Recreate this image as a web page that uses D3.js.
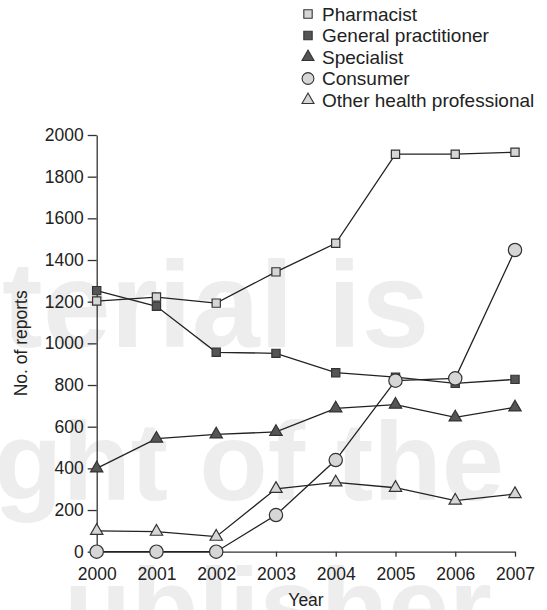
<!DOCTYPE html>
<html>
<head>
<meta charset="utf-8">
<script src="https://cdn.jsdelivr.net/npm/d3@7"></script>
<style>
  body { margin: 0; background: #fff; }
  svg { display: block; font-family: "Liberation Sans", Arial, sans-serif; }
</style>
</head>
<body>
<div id="graph"></div>
<script>
// data
var years = [2000, 2001, 2002, 2003, 2004, 2005, 2006, 2007];
var yTicks = [0, 200, 400, 600, 800, 1000, 1200, 1400, 1600, 1800, 2000];

var pharmacist = [1203, 1222, 1193, 1343, 1480, 1908, 1908, 1917];
var generalPractitioner = [1253, 1178, 957, 952, 859, 838, 808, 827];
var specialist = [400, 543, 563, 575, 688, 706, 645, 693];
var consumer = [0, 0, 0, 176, 440, 821, 832, 1448];
var otherHealth = [100, 96, 72, 302, 333, 307, 245, 277];

var seriesNames = ['Pharmacist', 'General practitioner', 'Specialist', 'Consumer', 'Other health professional'];
var seriesValues = [pharmacist, generalPractitioner, specialist, consumer, otherHealth];
var seriesShapes = ['square', 'square', 'triangle', 'circle', 'triangle'];
var seriesFills = ['#d6d6d6', '#555555', '#555555', '#d6d6d6', '#d6d6d6'];

var watermark = ['terial is', 'ght of the', 'ublisher'];

var chart_width = 547;
var chart_height = 610;

var svg = d3.select('#graph')
  .append('svg')
  .attr('width', chart_width)
  .attr('height', chart_height);

// faint watermark behind everything
var wm = svg.append('g')
  .attr('fill', '#ededed')
  .attr('font-weight', 'bold');
wm.append('text').attr('x', 2).attr('y', 347).attr('font-size', 122).text(watermark[0]);
wm.append('text').attr('x', -6).attr('y', 500).attr('font-size', 112).text(watermark[1]);
wm.append('text').attr('x', 64).attr('y', 644).attr('font-size', 110).text(watermark[2]);

var x_scale = d3.scaleLinear()
  .domain([2000, 2007])
  .range([96.7, 515]);

var y_scale = d3.scaleLinear()
  .domain([0, 2000])
  .range([551.7, 135]);

var x_axis = d3.axisBottom(x_scale)
  .tickValues(years)
  .tickFormat(d3.format('d'))
  .tickSizeInner(5)
  .tickSizeOuter(0)
  .tickPadding(11);

var y_axis = d3.axisLeft(y_scale)
  .tickValues(yTicks)
  .tickFormat(d3.format('d'))
  .tickSizeInner(9)
  .tickSizeOuter(0)
  .tickPadding(4);

var gx = svg.append('g')
  .attr('transform', 'translate(0,' + y_scale(0) + ')')
  .call(x_axis);

var gy = svg.append('g')
  .attr('transform', 'translate(' + x_scale(2000) + ',0)')
  .call(y_axis);

[gx, gy].forEach(function (g) {
  g.selectAll('path, line').attr('stroke', '#333').attr('stroke-width', 1.3);
  g.selectAll('text')
    .attr('fill', '#222')
    .attr('font-size', 17.5)
    .attr('font-family', '"Liberation Sans", Arial, sans-serif');
});

svg.append('text')
  .attr('x', 306)
  .attr('y', 606)
  .attr('text-anchor', 'middle')
  .attr('font-size', 17.5)
  .attr('fill', '#222')
  .text('Year');

svg.append('text')
  .attr('transform', 'translate(27,' + y_scale(1000) + ') rotate(-90)')
  .attr('text-anchor', 'middle')
  .attr('font-size', 17.5)
  .attr('fill', '#222')
  .text('No. of reports');

var line = d3.line()
  .x(function (d, i) { return x_scale(years[i]); })
  .y(function (d) { return y_scale(d); });

svg.selectAll('.series-line')
  .data(seriesValues)
  .enter()
  .append('path')
  .attr('class', 'series-line')
  .attr('fill', 'none')
  .attr('stroke', '#222')
  .attr('stroke-width', 1.3)
  .attr('d', function (d) { return line(d); });

// marker shapes drawn with d3.symbol
var symbolFor = {
  square: d3.symbol().type(d3.symbolSquare).size(68),
  circle: d3.symbol().type(d3.symbolCircle).size(140),
  triangle: d3.symbol().type(d3.symbolTriangle).size(66)
};

var markers = svg.selectAll('.markers')
  .data(seriesValues)
  .enter()
  .append('g')
  .attr('class', 'markers');

markers.each(function (vals, s) {
  d3.select(this).selectAll('path')
    .data(vals)
    .enter()
    .append('path')
    .attr('d', symbolFor[seriesShapes[s]])
    .attr('transform', function (d, i) {
      return 'translate(' + x_scale(years[i]) + ',' + y_scale(d) + ')';
    })
    .attr('fill', seriesFills[s])
    .attr('stroke', '#333')
    .attr('stroke-width', 1.2);
});

// legend
var legendSym = {
  square: d3.symbol().type(d3.symbolSquare).size(70),
  circle: d3.symbol().type(d3.symbolCircle).size(110),
  triangle: d3.symbol().type(d3.symbolTriangle).size(62)
};

var legend = svg.selectAll('.legend')
  .data(seriesNames)
  .enter()
  .append('g')
  .attr('class', 'legend')
  .attr('transform', function (d, i) {
    return 'translate(308,' + (14 + i * 21.5) + ')';
  });

legend.append('path')
  .attr('d', function (d, i) { return legendSym[seriesShapes[i]](); })
  .attr('fill', function (d, i) { return seriesFills[i]; })
  .attr('stroke', '#333')
  .attr('stroke-width', 1.1);

legend.append('text')
  .attr('x', 14)
  .attr('y', 6.8)
  .attr('font-size', 19)
  .attr('fill', '#222')
  .text(function (d) { return d; });
</script>
</body>
</html>
